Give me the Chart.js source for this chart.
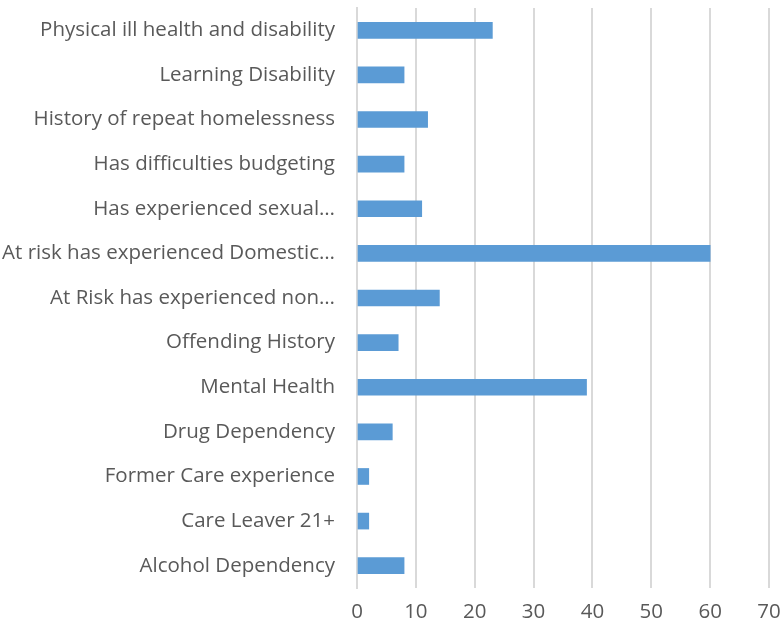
<!DOCTYPE html>
<html lang="en">
<head>
    <meta charset="UTF-8">
    <title>Support needs</title>
    <script src="https://cdn.jsdelivr.net/npm/chart.js@4.4.0/dist/chart.umd.min.js"></script>
    <style>
        html, body { margin: 0; padding: 0; background: #fff; }
        #wrap { width: 782px; height: 628px; }
    </style>
</head>
<body>
    <div id="wrap"><canvas id="chart"></canvas></div>
    <script>
        const categories = [
            "Physical ill health and disability",
            "Learning Disability",
            "History of repeat homelessness",
            "Has difficulties budgeting",
            "Has experienced sexual\u2026",
            "At risk has experienced Domestic\u2026",
            "At Risk has experienced non\u2026",
            "Offending History",
            "Mental Health",
            "Drug Dependency",
            "Former Care experience",
            "Care Leaver 21+",
            "Alcohol Dependency"
        ];
        const counts = [23, 8, 12, 8, 11, 60, 14, 7, 39, 6, 2, 2, 8];
        const xTicks = [0, 10, 20, 30, 40, 50, 60, 70];

        const textColor = "#595959";
        const gridColor = "#d9d9d9";
        const font = { family: "'Open Sans', 'Liberation Sans', sans-serif", size: 20.5 };

        new Chart("chart", {
            type: "bar",
            data: {
                labels: categories,
                datasets: [{
                    data: counts,
                    backgroundColor: "#5b9bd5",
                    barThickness: 16
                }]
            },
            options: {
                indexAxis: "y",
                responsive: true,
                maintainAspectRatio: false,
                animation: false,
                layout: { padding: { top: 8, right: 13, left: 0, bottom: 0 } },
                plugins: { legend: { display: false }, tooltip: { enabled: false } },
                scales: {
                    x: {
                        min: 0,
                        max: 70,
                        afterBuildTicks: (axis) => { axis.ticks = xTicks.map(v => ({ value: v })); },
                        afterFit: (axis) => {
                            axis.height = 40;
                            axis.paddingLeft = 0;
                            axis.paddingRight = 0;
                        },
                        grid: { color: gridColor, lineWidth: 2, drawTicks: false },
                        border: { display: false },
                        ticks: { color: textColor, font: font, padding: 12 }
                    },
                    y: {
                        afterFit: (axis) => {
                            axis.width = 357;
                            axis.paddingTop = 0;
                            axis.paddingBottom = 0;
                        },
                        grid: { display: false, drawTicks: false },
                        border: { display: true, color: gridColor, width: 2 },
                        ticks: { color: textColor, font: font, padding: 22, autoSkip: false }
                    }
                }
            }
        });
    </script>
</body>
</html>
